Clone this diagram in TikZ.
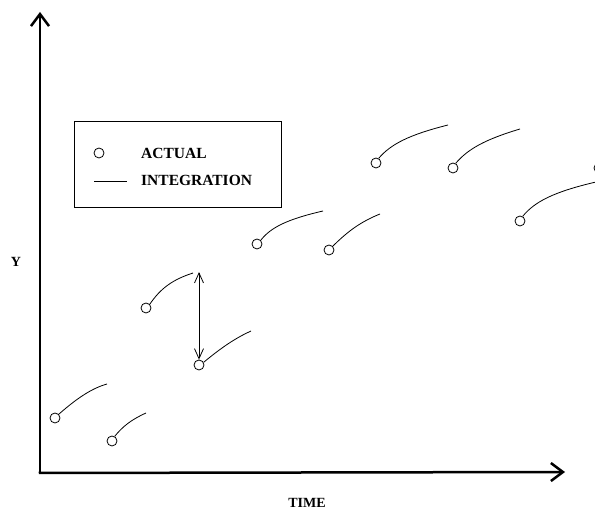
\documentclass[tikz,border=0pt]{standalone}
\usepackage{fontspec}
\setmainfont{Liberation Serif}
\usetikzlibrary{arrows.meta,calc}

\tikzset{
  actual/.style={draw, circle, minimum size=10pt, inner sep=0pt, line width=0.8pt},
  integ/.style={line width=0.8pt},
  lbl/.style={font=\fontsize{14}{16}\selectfont\bfseries, inner sep=0pt},
  leglbl/.style={font=\fontsize{15.5}{17}\selectfont\bfseries, inner sep=0pt, anchor=base west},
}

\begin{document}
\begin{tikzpicture}[x=1pt, y=-1pt]
\useasboundingbox (0,0) rectangle (595,510);

% Axes
\coordinate (O) at (40,473);
\coordinate (ytip) at (40,12);
\coordinate (xtip) at (565,472);
\draw[line width=2.5pt, -{Straight Barb[length=12pt, width=18pt]}] (O) -- (ytip);
\draw[line width=2.5pt, -{Straight Barb[length=12pt, width=18pt]}] ($(O)+(-1.25,0)$) -- (xtip);
\node[lbl] (ylab) at (16,262) {Y};
\node[lbl] (xlab) at (307,503) {TIME};

% Legend
\draw[line width=0.8pt] (74,121) rectangle (281,207);
\node[actual] (lc) at (99,153) {};
\node[leglbl] (lact) at (141,159) {ACTUAL};
\coordinate (ls) at (94,181);
\coordinate (le) at (127,181);
\draw[integ] (ls) -- (le);
\node[leglbl] (lint) at (141,186) {INTEGRATION};

% Actual values
\node[actual] (a1) at (55,418) {};
\node[actual] (a2) at (112,441) {};
\node[actual] (a3) at (146,308) {};
\node[actual] (a4) at (199,365) {};
\node[actual] (a5) at (257,244) {};
\node[actual] (a6) at (329,250) {};
\node[actual] (a7) at (376,163) {};
\node[actual] (a8) at (453,168) {};
\node[actual] (a9) at (520,221) {};
\node[actual] (a10) at (599,168) {};

% Integration end points
\coordinate (e1) at (107,384);
\coordinate (e2) at (146,413);
\coordinate (e3) at (193,273);
\coordinate (e4) at (251,331);
\coordinate (e5) at (323,211);
\coordinate (e6) at (380,214);
\coordinate (e7) at (448,125);
\coordinate (e8) at (520,129);
\coordinate (e9) at (596,182);

% Integration curves (steep start, then flattening)
\draw[integ] (a1.45) .. controls (79,396.5) and (93,388) .. (e1);
\draw[integ] (a2.60) .. controls (122.7,426.5) and (131,419.8) .. (e2);
\draw[integ] (a3.45) .. controls (160.4,288.7) and (172,279.8) .. (e3);
\draw[integ] (a4.30) .. controls (224,345.4) and (237.5,337.2) .. (e4);
\draw[integ] (a5.45) .. controls (270.7,227.5) and (287,219.3) .. (e5);
\draw[integ] (a6.45) .. controls (348.3,230.8) and (361.3,221.5) .. (e6);
\draw[integ] (a7.60) .. controls (390.7,144.2) and (409,134.8) .. (e7);
\draw[integ] (a8.60) .. controls (467.7,149.2) and (484.8,139.5) .. (e8);
\draw[integ] (a9.60) .. controls (534.8,201.5) and (554,191.8) .. (e9);

% Gap between integration and actual
\coordinate (gtop) at (199,272);
\draw[line width=0.8pt, {Straight Barb[length=10pt, width=9pt]}-{Straight Barb[length=10pt, width=9pt]}] (gtop) -- (a4.north);
\end{tikzpicture}
\end{document}
